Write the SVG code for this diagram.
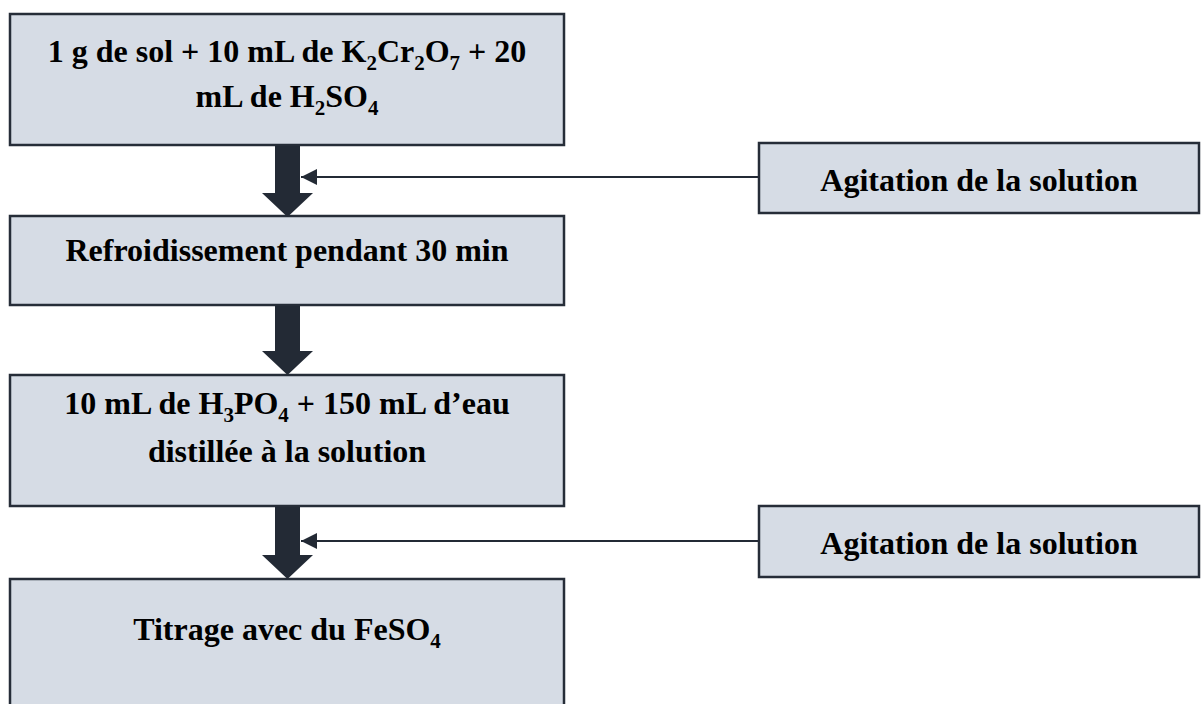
<svg xmlns="http://www.w3.org/2000/svg" width="1203" height="704" viewBox="0 0 1203 704">
  <style>
    .box { fill: #d6dce5; stroke: #262d38; stroke-width: 2.5; }
    .t { font-family: "Liberation Serif", "Times New Roman", serif; font-weight: bold; font-size: 32px; fill: #000; text-anchor: middle; }
    .sub { font-size: 21px; }
    .big { fill: #232a35; }
    .conn { stroke: #232a35; stroke-width: 2; fill: none; }
  </style>
  <defs>
    <marker id="ah" markerWidth="16" markerHeight="16" refX="16" refY="8" orient="auto" markerUnits="userSpaceOnUse">
      <path d="M0,0 L16,8 L0,16 Z" fill="#232a35"/>
    </marker>
  </defs>
  <rect width="1203" height="704" fill="#ffffff"/>

  <g id="n1">
    <rect class="box" x="10" y="14" width="554" height="131"/>
    <text class="t" x="287" y="62">1 g de sol + 10 mL de K<tspan class="sub" dy="8">2</tspan><tspan dy="-8">Cr</tspan><tspan class="sub" dy="8">2</tspan><tspan dy="-8">O</tspan><tspan class="sub" dy="8">7</tspan><tspan dy="-8"> + 20</tspan></text>
    <text class="t" x="287" y="107">mL de H<tspan class="sub" dy="8">2</tspan><tspan dy="-8">SO</tspan><tspan class="sub" dy="8">4</tspan></text>
  </g>

  <g id="n2">
    <rect class="box" x="759" y="143" width="440" height="70"/>
    <text class="t" x="979" y="191">Agitation de la solution</text>
  </g>

  <g id="n3">
    <rect class="box" x="10" y="216" width="554" height="89"/>
    <text class="t" x="287" y="261">Refroidissement pendant 30 min</text>
  </g>

  <g id="n4">
    <rect class="box" x="10" y="375" width="554" height="131"/>
    <text class="t" x="287" y="414">10 mL de H<tspan class="sub" dy="8">3</tspan><tspan dy="-8">PO</tspan><tspan class="sub" dy="8">4</tspan><tspan dy="-8"> + 150 mL d’eau</tspan></text>
    <text class="t" x="287" y="462">distillée à la solution</text>
  </g>

  <g id="n5">
    <rect class="box" x="759" y="506" width="440" height="71"/>
    <text class="t" x="979" y="554">Agitation de la solution</text>
  </g>

  <g id="n6">
    <rect class="box" x="10" y="579" width="554" height="135"/>
    <text class="t" x="287" y="640">Titrage avec du FeSO<tspan class="sub" dy="8">4</tspan></text>
  </g>

  <g id="connectors">
    <path class="big" d="M275,146 L300,146 L300,193 L313,193 L287.5,217 L262,193 L275,193 Z"/>
    <path class="big" d="M275,306 L300,306 L300,351 L313,351 L287.5,375 L262,351 L275,351 Z"/>
    <path class="big" d="M275,507 L300,507 L300,555 L313,555 L287.5,579 L262,555 L275,555 Z"/>
    <line class="conn" x1="758" y1="177" x2="301" y2="177" marker-end="url(#ah)"/>
    <line class="conn" x1="758" y1="541" x2="301" y2="541" marker-end="url(#ah)"/>
  </g>
</svg>
